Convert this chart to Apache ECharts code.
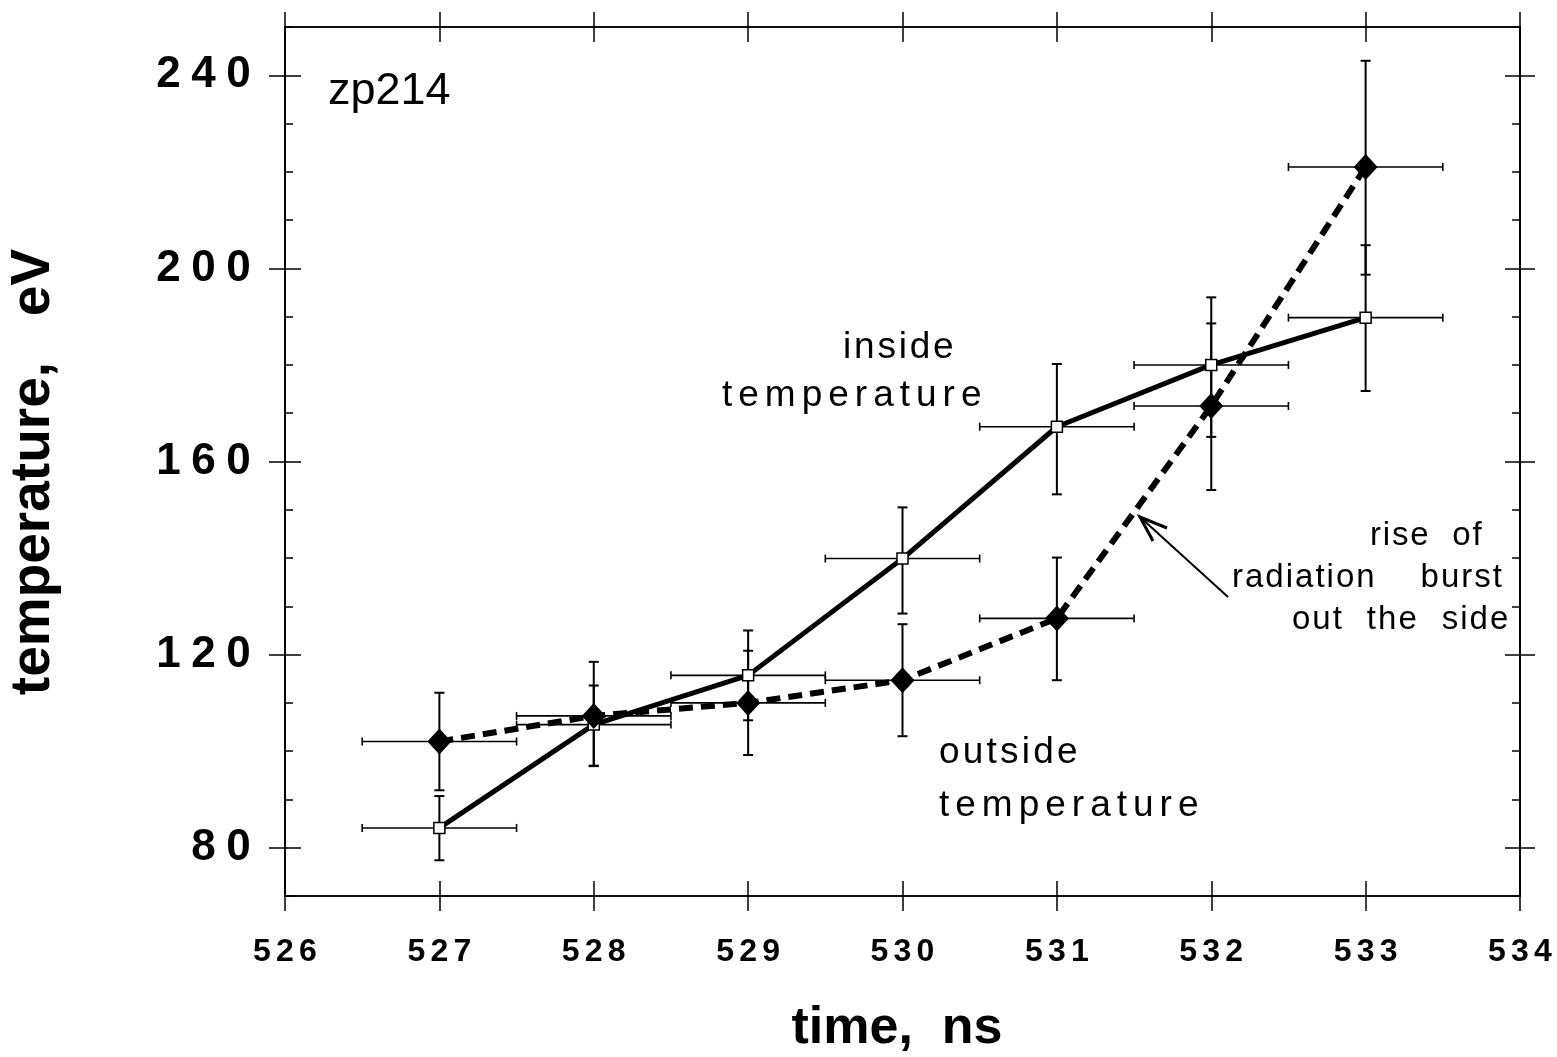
<!DOCTYPE html>
<html><head><meta charset="utf-8">
<script src="https://cdn.jsdelivr.net/npm/echarts@6/dist/echarts.min.js"></script>
<style>html,body{margin:0;padding:0;background:#fff}#c{width:1557px;height:1057px}</style>
</head><body><div id="c"></div>
<script>
// ---- data ----
const timeNs      = [527, 528, 529, 530, 531, 532, 533];
const timeErr     = [0.5, 0.5, 0.5, 0.5, 0.5, 0.5, 0.5];
const insideTemp  = [84.1, 105.5, 115.7, 139.9, 167.2, 180.0, 189.8];
const insideLow   = [77.4, 97.0, 106.4, 128.5, 153.2, 165.1, 174.6];
const insideHigh  = [90.7, 113.6, 125.0, 150.5, 180.2, 194.0, 204.8];
const outsideTemp = [102.0, 107.3, 110.0, 114.7, 127.5, 171.5, 221.0];
const outsideLow  = [91.9, 96.9, 99.2, 103.1, 114.7, 154.1, 198.7];
const outsideHigh = [112.1, 118.5, 120.8, 126.3, 140.1, 188.6, 243.0];
const xTickValues = [526, 527, 528, 529, 530, 531, 532, 533, 534];
const yTickValues = [80, 120, 160, 200, 240];

const FF = '"Liberation Sans", Arial, Helvetica, sans-serif';
const chart = echarts.init(document.getElementById('c'), null, {renderer: 'canvas'});

function digits(str, key) {
  return String(str).split('').map(c => '{' + key + '|' + c + '}').join('');
}
function spaced(str, key) {
  return str.split('').map(c => c === ' ' ? '{' + key + 'w| }' : '{' + key + '|' + c + '}').join('');
}

function errorBars(params, api) {
  const x = api.value(0), y = api.value(1), lo = api.value(2), hi = api.value(3), dx = api.value(4);
  const a = api.coord([x, lo]), b = api.coord([x, hi]);
  const l = api.coord([x - dx, y]), r = api.coord([x + dx, y]);
  const cw = 5, ch = 4;
  const vs = {stroke: '#000', lineWidth: 2};
  const hs = {stroke: '#000', lineWidth: 1.6};
  return {type: 'group', children: [
    {type: 'line', shape: {x1: a[0], y1: a[1], x2: b[0], y2: b[1]}, style: vs},
    {type: 'line', shape: {x1: a[0] - cw, y1: a[1], x2: a[0] + cw, y2: a[1]}, style: vs},
    {type: 'line', shape: {x1: b[0] - cw, y1: b[1], x2: b[0] + cw, y2: b[1]}, style: vs},
    {type: 'line', shape: {x1: l[0], y1: l[1], x2: r[0], y2: r[1]}, style: hs},
    {type: 'line', shape: {x1: l[0], y1: l[1] - ch, x2: l[0], y2: l[1] + ch}, style: hs},
    {type: 'line', shape: {x1: r[0], y1: r[1] - ch, x2: r[0], y2: r[1] + ch}, style: hs}
  ]};
}

const axisLineStyle = {show: true, lineStyle: {color: '#000', width: 1.5}};
function xAx(pos, inside, labels) {
  return {
    type: 'value', position: pos, min: 526, max: 534, interval: 1,
    axisLine: axisLineStyle, splitLine: {show: false},
    axisTick: {show: true, inside: inside, length: 15, lineStyle: {color: '#000', width: 1.5}},
    axisLabel: labels ? {
      show: true, margin: 40,
      formatter: v => digits(v, 'd'),
      rich: {d: {width: 23, align: 'center', fontSize: 32, fontWeight: 'bold', fontFamily: FF, color: '#000'}}
    } : {show: false}
  };
}
function yAx(pos, inside, len, major, labels) {
  const o = {
    type: 'value', position: pos, min: 70, max: 250, interval: 10,
    axisLine: axisLineStyle, splitLine: {show: false},
    axisTick: {show: true, inside: inside, length: len, lineStyle: {color: '#000', width: 1.5}},
    axisLabel: {show: false}
  };
  if (major) o.axisTick.customValues = yTickValues;
  if (labels) {
    o.axisLabel = {
      show: true, margin: 29, customValues: yTickValues,
      formatter: v => digits(v, 'd'),
      rich: {d: {width: 35, align: 'center', fontSize: 44, fontWeight: 'bold', fontFamily: FF, color: '#000'}}
    };
  }
  return o;
}

function annText(x, y, str, fs, pad, spaceW) {
  const f = fs + 'px ' + FF;
  return {
    type: 'text', x: x - pad, y: y, z: 10,
    style: {
      text: spaced(str, 'a'),
      align: 'left', verticalAlign: 'middle',
      font: f, fill: '#000',
      rich: {
        a: {font: f, fontSize: fs, fontFamily: FF, fill: '#000', padding: [0, pad, 0, pad]},
        aw: {font: f, fontSize: fs, fontFamily: FF, fill: '#000', width: spaceW}
      }
    }
  };
}

const option = {
  backgroundColor: '#fff',
  animation: false,
  grid: {left: 285, right: 37, top: 27, bottom: 161, show: false, outerBoundsMode: 'none', containLabel: false},
  xAxis: [xAx('bottom', false, true), xAx('bottom', true, false), xAx('top', false, false), xAx('top', true, false)],
  yAxis: [
    yAx('left', false, 16, true, true),
    yAx('left', true, 8, false, false),
    yAx('left', true, 16, true, false),
    yAx('right', false, 15, true, false),
    yAx('right', true, 8, false, false),
    yAx('right', true, 15, true, false)
  ],
  series: [
    {
      type: 'custom', name: 'inside err', z: 1, xAxisIndex: 0, yAxisIndex: 0,
      renderItem: errorBars, encode: {x: 0, y: 1},
      data: timeNs.map((t, i) => [t, insideTemp[i], insideLow[i], insideHigh[i], timeErr[i]])
    },
    {
      type: 'custom', name: 'outside err', z: 1, xAxisIndex: 0, yAxisIndex: 0,
      renderItem: errorBars, encode: {x: 0, y: 1},
      data: timeNs.map((t, i) => [t, outsideTemp[i], outsideLow[i], outsideHigh[i], timeErr[i]])
    },
    {
      type: 'line', name: 'inside temperature', z: 3, xAxisIndex: 0, yAxisIndex: 0,
      data: timeNs.map((t, i) => [t, insideTemp[i]]),
      symbol: 'rect', symbolSize: 11, showSymbol: true,
      itemStyle: {color: '#fff', borderColor: '#000', borderWidth: 1.5},
      lineStyle: {color: '#000', width: 5}
    },
    {
      type: 'line', name: 'outside temperature', z: 4, xAxisIndex: 0, yAxisIndex: 0,
      data: timeNs.map((t, i) => [t, outsideTemp[i]]),
      symbol: 'diamond', symbolSize: [24, 26], showSymbol: true,
      itemStyle: {color: '#000'},
      lineStyle: {color: '#000', width: 6, type: [14, 8]}
    }
  ],
  graphic: [
    {type: 'text', x: 34, y: 472, rotation: Math.PI / 2, z: 10,
      style: {text: 'temperature,   eV', font: 'bold 55px ' + FF, fill: '#000', align: 'center', verticalAlign: 'middle'}},
    {type: 'text', x: 897, y: 1029, z: 10,
      style: {text: 'time,  ns', font: 'bold 52px ' + FF, fill: '#000', align: 'center', verticalAlign: 'middle'}},
    {type: 'text', x: 328, y: 92, z: 10,
      style: {text: 'zp214', font: '45px ' + FF, fill: '#000', align: 'left', verticalAlign: 'middle'}},
    annText(843, 348, 'inside', 37, 1.4, 12),
    annText(722, 396, 'temperature', 37, 3.0, 12),
    annText(939, 753, 'outside', 37, 1.6, 12),
    annText(939, 806, 'temperature', 37, 3.0, 12),
    annText(1370, 536, 'rise of', 33, 0.9, 22),
    annText(1232, 578, 'radiation burst', 33, 1.0, 44),
    annText(1292, 620, 'out the side', 33, 1.0, 23),
    {type: 'polyline', z: 10, shape: {points: [[1228, 597], [1140, 517]]}, style: {stroke: '#000', lineWidth: 2, fill: null}},
    {type: 'polyline', z: 10, shape: {points: [[1153, 541], [1140, 517], [1167, 528]]}, style: {stroke: '#000', lineWidth: 3, fill: null}}
  ]
};
chart.setOption(option);
</script>
</body></html>
